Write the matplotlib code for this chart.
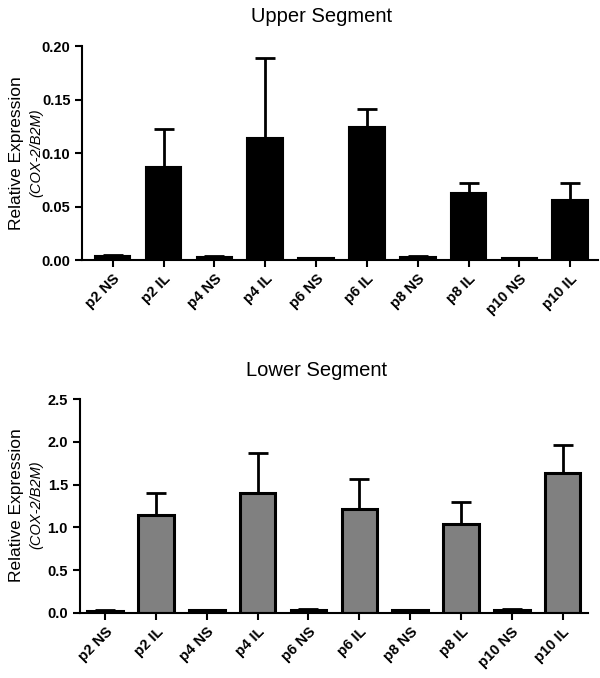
import matplotlib
matplotlib.use('Agg')
import matplotlib.pyplot as plt

plt.rcParams['font.family'] = ['Liberation Sans', 'DejaVu Sans']

groups = ['p2 NS', 'p2 IL', 'p4 NS', 'p4 IL', 'p6 NS', 'p6 IL',
          'p8 NS', 'p8 IL', 'p10 NS', 'p10 IL']

# upper segment: mean and upper error
upper_mean = [0.004, 0.087, 0.003, 0.114, 0.002, 0.124, 0.003, 0.063, 0.0015, 0.056]
upper_err = [0.0005, 0.035, 0.0005, 0.075, 0.0003, 0.017, 0.0004, 0.009, 0.0002, 0.016]

# lower segment
lower_mean = [0.025, 1.15, 0.03, 1.40, 0.04, 1.22, 0.03, 1.04, 0.04, 1.64]
lower_err = [0.005, 0.25, 0.005, 0.47, 0.005, 0.34, 0.005, 0.26, 0.005, 0.32]

fig = plt.figure(figsize=(6, 6.78), dpi=100)
ax1 = fig.add_axes([0.137, 0.6165, 0.86, 0.3156])
ax2 = fig.add_axes([0.133, 0.0959, 0.847, 0.3156])

x = list(range(len(groups)))


def style(ax, ticks, fmt, xlim):
    for s in ['top', 'right']:
        ax.spines[s].set_visible(False)
    for s in ['left', 'bottom']:
        ax.spines[s].set_linewidth(1.5)
    ax.tick_params(width=1.5, length=5, direction='out')
    ax.set_xticks(x)
    ax.set_xticklabels(groups, rotation=45, ha='right', rotation_mode='anchor',
                       fontweight='bold', fontsize=10.5)
    ax.set_yticks(ticks)
    ax.set_yticklabels([fmt % t for t in ticks], fontweight='bold', fontsize=10.5)
    ax.set_xlim(*xlim)


ax1.bar(x, upper_mean, width=0.7, color='black', edgecolor='black', linewidth=1.5,
        yerr=[[0] * len(x), upper_err], error_kw=dict(ecolor='black', elinewidth=2,
                                                       capsize=7, capthick=2))
ax1.set_ylim(0, 0.2)
style(ax1, [0, 0.05, 0.10, 0.15, 0.20], '%.2f', (-0.6, 9.55))

ax2.bar(x, lower_mean, width=0.7, color='#808080', edgecolor='black', linewidth=2.2,
        yerr=[[0] * len(x), lower_err], error_kw=dict(ecolor='black', elinewidth=2,
                                                       capsize=7, capthick=2))
ax2.set_ylim(0, 2.5)
style(ax2, [0, 0.5, 1.0, 1.5, 2.0, 2.5], '%.1f', (-0.5, 9.5))

fig.text(322 / 600, 1 - 17 / 678, 'Upper Segment', ha='center', va='center', fontsize=14.5)
fig.text(317 / 600, 1 - 370 / 678, 'Lower Segment', ha='center', va='center', fontsize=14.5)

for yc in [153, 505]:
    fig.text(17 / 600, 1 - yc / 678, 'Relative Expression', rotation=90,
             ha='center', va='center', fontsize=12.5)
    fig.text(36 / 600, 1 - yc / 678, '(COX-2/B2M)', rotation=90, style='italic',
             ha='center', va='center', fontsize=10.5)

fig.savefig('out.png', dpi=100)
